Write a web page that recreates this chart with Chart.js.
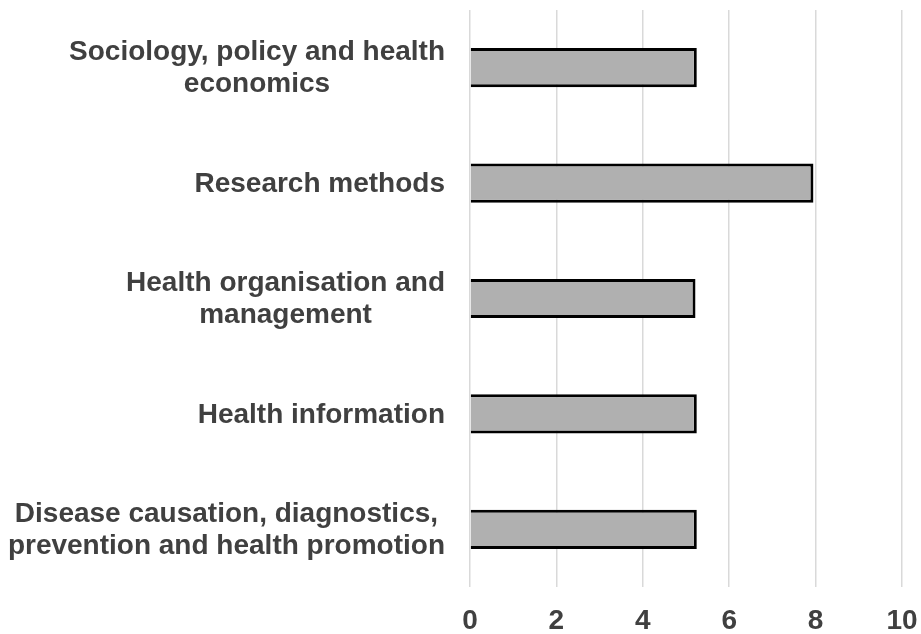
<!DOCTYPE html>
<html>
<head>
<meta charset="utf-8">
<script src="https://cdn.jsdelivr.net/npm/chart.js@4.4.1/dist/chart.umd.min.js"></script>
<style>
  body { margin: 0; background: #fff; }
  #wrap { width: 921px; height: 634px; position: relative; }
</style>
</head>
<body>
<div id="wrap"><canvas id="barChart"></canvas></div>
<script>
const categories = [
    ['Sociology, policy and health', 'economics'],
    ['Research methods'],
    ['Health organisation and', 'management'],
    ['Health information'],
    ['Disease causation, diagnostics,', 'prevention and health promotion']
];
const values = [5.25, 7.95, 5.22, 5.25, 5.25];
const xTicks = [0, 2, 4, 6, 8, 10];

const fontFamily = '"Liberation Sans", Arial, sans-serif';
const labelFont = 'bold 28px ' + fontFamily;
const textColor = '#404040';

// labels drawn as right-aligned blocks with centred lines
const blockLabels = {
    id: 'blockLabels',
    afterDraw(chart) {
        const ctx = chart.ctx;
        const yScale = chart.scales.y;
        const right = chart.chartArea.left - 25;
        ctx.save();
        ctx.font = labelFont;
        ctx.fillStyle = textColor;
        ctx.textAlign = 'center';
        ctx.textBaseline = 'middle';
        categories.forEach((lines, i) => {
            const y = yScale.getPixelForValue(i);
            let maxW = 0;
            lines.forEach(l => { maxW = Math.max(maxW, ctx.measureText(l).width); });
            const cx = right - maxW / 2;
            const lh = 32;
            const top = y - (lines.length - 1) * lh / 2 + 1;
            lines.forEach((l, j) => ctx.fillText(l, cx, top + j * lh));
        });
        ctx.restore();
    }
};

const ctx = document.getElementById('barChart').getContext('2d');
const chart = new Chart(ctx, {
    type: 'bar',
    data: {
        labels: categories,
        datasets: [{
            data: values,
            backgroundColor: '#b0b0b0',
            borderColor: '#000000',
            borderWidth: 3,
            barPercentage: 0.34,
            categoryPercentage: 1
        }]
    },
    options: {
        indexAxis: 'y',
        responsive: true,
        maintainAspectRatio: false,
        animation: false,
        layout: {
            padding: { top: 10, right: 19, bottom: 0, left: 0 }
        },
        plugins: {
            legend: { display: false },
            tooltip: { enabled: false }
        },
        scales: {
            x: {
                min: 0,
                max: 10,
                afterBuildTicks: (scale) => {
                    scale.ticks = xTicks.map(v => ({ value: v }));
                },
                afterFit: (scale) => {
                    scale.height = 47;
                    scale.paddingLeft = 0;
                    scale.paddingRight = 0;
                },
                grid: {
                    color: '#d9d9d9',
                    lineWidth: 1.5,
                    drawTicks: false
                },
                border: { display: false },
                ticks: {
                    color: textColor,
                    padding: 20,
                    maxRotation: 0,
                    font: { family: fontFamily, size: 28, weight: 'bold', lineHeight: 1 }
                }
            },
            y: {
                grid: { display: false },
                border: { display: false },
                ticks: { display: false },
                afterFit: (scale) => {
                    scale.width = 470;
                    scale.paddingTop = 0;
                    scale.paddingBottom = 0;
                }
            }
        }
    },
    plugins: [blockLabels]
});
</script>
</body>
</html>
